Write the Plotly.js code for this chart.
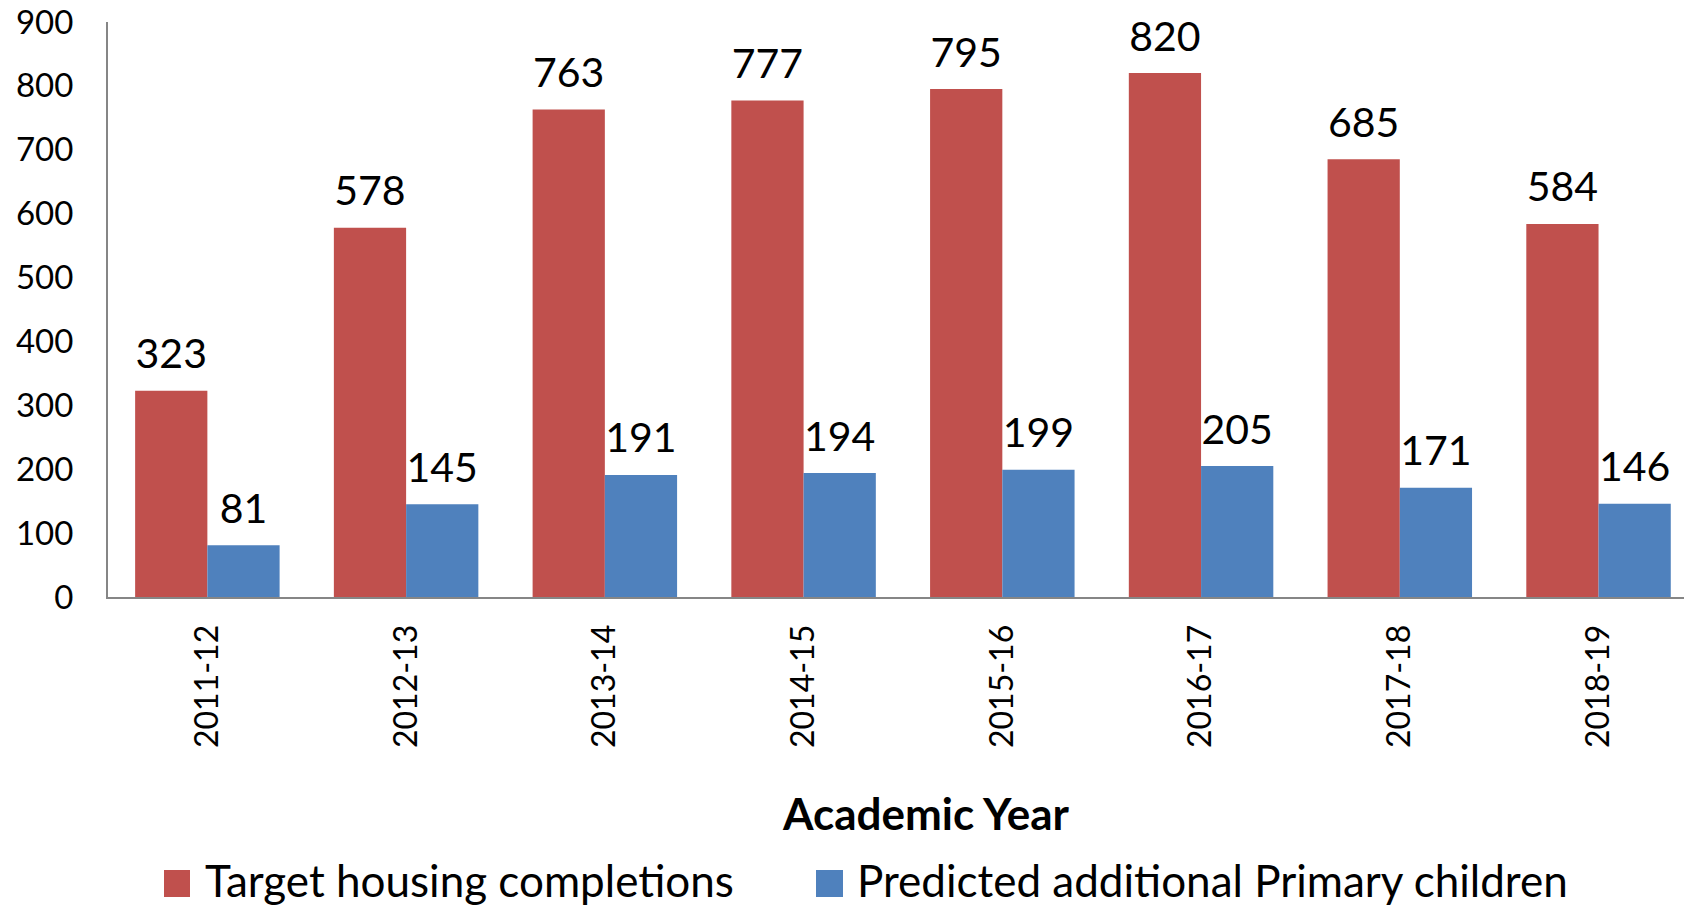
<!DOCTYPE html>
<html>
<head>
<meta charset="utf-8">
<script src="https://cdn.plot.ly/plotly-3.0.1.min.js"></script>
<style>html,body{margin:0;padding:0;background:#fff;}#chart{width:1684px;height:907px;}</style>
</head>
<body>
<div id="chart"></div>
<script>
const years = ["2011-12","2012-13","2013-14","2014-15","2015-16","2016-17","2017-18","2018-19"];
const housing = [323,578,763,777,795,820,685,584];
const children = [81,145,191,194,199,205,171,146];
const seriesNames = ["Target housing completions","Predicted additional Primary children"];
const seriesColors = ["#C0504D","#4F81BD"];
const yTicks = [0,100,200,300,400,500,600,700,800,900];
const xTitle = "Academic Year";

const FONT = "Lato, 'Open Sans', sans-serif";
const W = 1684, H = 907;
const M = {l:108, r:0, t:22, b:310};
const pw = W - M.l - M.r, ph = H - M.t - M.b;
const px = p => (p - M.l) / pw;
const py = p => (H - M.b - p) / ph;

const seriesVals = [housing, children];
const traces = [];
seriesVals.forEach((vals, i) => {
  traces.push({
    type: 'bar', x: years, y: vals, name: seriesNames[i],
    marker: {color: seriesColors[i], line: {width: 0}},
    offsetgroup: 'g' + i, hoverinfo: 'x+y', showlegend: false
  });
});
seriesVals.forEach((vals, i) => {
  traces.push({
    type: 'scatter', mode: 'markers+text', x: years, y: vals,
    text: vals.map(String), textposition: 'top center',
    textfont: {family: FONT, size: 41, color: '#000'},
    marker: {size: 18, opacity: 0}, offsetgroup: 'g' + i,
    hoverinfo: 'skip', showlegend: false, cliponaxis: false
  });
});

const shapes = [], annotations = [];
const legendItems = [
  {sq: [164, 190], tx: 203},
  {sq: [816, 843], tx: 855}
];
legendItems.forEach((it, i) => {
  shapes.push({type: 'rect', xref: 'paper', yref: 'paper',
    x0: px(it.sq[0]), x1: px(it.sq[1]), y0: py(897), y1: py(870),
    fillcolor: seriesColors[i], line: {width: 0}});
  annotations.push({xref: 'paper', yref: 'paper', x: px(it.tx), y: py(880),
    xanchor: 'left', yanchor: 'middle', showarrow: false, text: seriesNames[i],
    font: {family: FONT, size: 44, color: '#000'}});
});
annotations.push({xref: 'paper', yref: 'paper', x: px(925), y: py(813),
  xanchor: 'center', yanchor: 'middle', showarrow: false,
  text: '<b>' + xTitle + '</b>', font: {family: FONT, size: 44, color: '#000'}});

const layout = {
  width: W, height: H, margin: M,
  paper_bgcolor: '#fff', plot_bgcolor: '#fff',
  barmode: 'group', bargap: 0.273, bargroupgap: 0,
  scattermode: 'group', scattergap: 0.273,
  showlegend: false,
  font: {family: FONT, color: '#000'},
  xaxis: {
    type: 'category', range: [-0.5, 7.43], tickangle: -90, showgrid: false, zeroline: false,
    showline: true, linecolor: '#868686', linewidth: 2,
    ticks: '', ticklabelstandoff: 13,
    tickfont: {family: FONT, size: 32, color: '#000'}
  },
  yaxis: {
    range: [0, 900], tickvals: yTicks, showgrid: false, zeroline: false,
    showline: true, linecolor: '#868686', linewidth: 2,
    ticks: '', ticklabelstandoff: 26,
    tickfont: {family: FONT, size: 33, color: '#000'}
  },
  shapes: shapes, annotations: annotations
};

Plotly.newPlot('chart', traces, layout, {displayModeBar: false, staticPlot: true});
</script>
</body>
</html>
